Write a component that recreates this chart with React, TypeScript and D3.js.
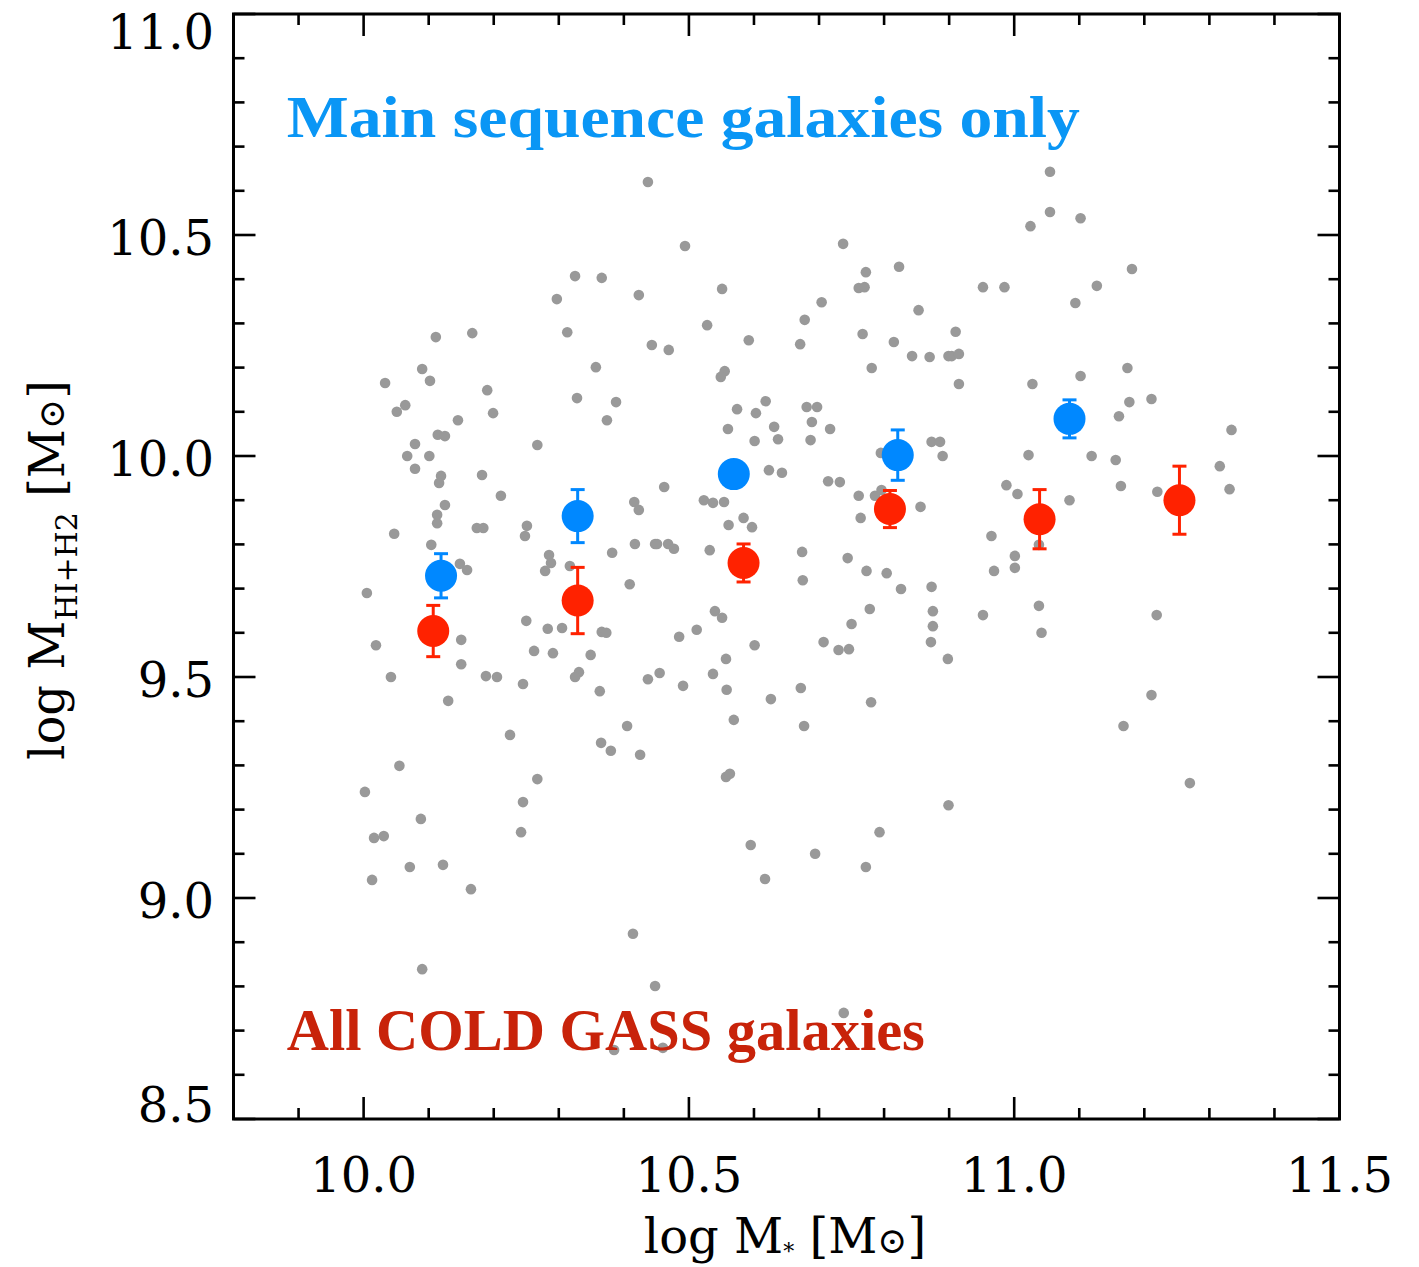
import React from 'react';
import * as d3 from 'd3';

// Canvas and plot frame
const W = 1419;
const H = 1267;
const frame = { left: 233.5, right: 1339.5, top: 14, bottom: 1119 };

// Axis domains and tick labels
const xDomain: [number, number] = [9.8, 11.5];
const yDomain: [number, number] = [8.5, 11.0];
const xTickLabels = ['10.0', '10.5', '11.0', '11.5'];
const yTickLabels = ['8.5', '9.0', '9.5', '10.0', '10.5', '11.0'];

// Individual galaxies: log stellar mass and log (HI+H2) gas mass
const galaxyLogMstar = [
  10.437, 10.325, 10.366, 10.297, 10.423, 10.313, 10.443, 10.111, 10.167, 10.357,
  10.090, 10.033, 10.102, 10.190, 10.328, 10.388, 10.064, 10.051, 10.199, 10.374,
  10.145, 10.114, 10.125, 10.079, 10.267, 10.067, 10.101,
  10.494, 10.737, 10.772, 10.823, 10.761, 10.770, 10.551, 10.704, 10.528, 10.678,
  10.853, 10.469, 10.592, 10.671, 10.767, 10.815, 10.843, 10.870, 10.899, 10.781,
  10.555, 10.549, 10.618, 10.574, 10.603, 10.681, 10.697, 10.689, 10.560, 10.631,
  10.717, 10.601, 10.637, 10.687, 10.873, 10.886, 10.795, 10.890,
  11.055, 11.055, 11.025, 11.102, 11.181, 10.952, 10.985, 11.127, 11.094, 10.910,
  10.904, 10.915, 10.915, 11.028, 11.102, 11.174, 11.177, 11.211, 11.161, 11.334,
  11.022, 11.119, 11.156,
  10.079, 10.119, 10.116, 10.182, 10.211, 10.125, 10.113, 10.113, 10.047, 10.174,
  10.184, 10.251, 10.248, 10.104, 10.148, 10.159, 10.285, 10.288, 10.279, 10.317,
  10.416, 10.423, 10.417, 10.448, 10.382, 10.409, 10.005, 10.250, 10.283, 10.305,
  10.366, 10.373, 10.150, 10.019, 10.262, 10.291, 10.349, 10.150, 10.188, 10.205,
  10.042, 10.331, 10.325, 10.245, 10.437, 10.363, 10.130, 10.405, 10.225, 10.365,
  10.380, 10.425,
  10.462, 10.623, 10.643, 10.714, 10.732, 10.523, 10.537, 10.554, 10.761, 10.786,
  10.796, 10.856, 10.764, 10.584, 10.597, 10.561, 10.451, 10.468, 10.477, 10.532,
  10.674, 10.675, 10.744, 10.773, 10.804, 10.826, 10.873, 10.778, 10.875, 10.875,
  10.750, 10.540, 10.551, 10.512, 10.485, 10.601, 10.707, 10.730, 10.746, 10.872,
  10.898, 10.557, 10.455, 10.537, 10.491, 10.558, 10.672, 10.626, 10.780, 10.569,
  10.677,
  11.316, 10.988, 11.005, 11.164, 11.085, 11.220, 11.331, 10.965, 11.001, 11.001,
  10.969, 11.038, 11.038, 10.952, 11.042, 11.219, 11.211, 11.168,
  10.055, 10.002, 10.267, 10.245, 10.088, 10.242, 10.016, 10.031, 10.071, 10.122,
  10.013, 10.165, 10.414, 10.090, 10.448, 10.385,
  10.557, 10.563, 10.899, 10.793, 10.595, 10.694, 10.772, 10.617, 10.738, 10.460,
  11.270,
];

const galaxyLogMgas = [
  10.620, 10.407, 10.403, 10.355, 10.364, 10.280, 10.251, 10.269, 10.278, 10.201,
  10.197, 10.165, 10.170, 10.149, 10.131, 10.122, 10.115, 10.100, 10.097, 10.081,
  10.081, 10.048, 10.045, 10.027, 10.025, 10.000, 10.000,
  10.475, 10.480, 10.416, 10.428, 10.380, 10.382, 10.378, 10.348, 10.296, 10.308,
  10.330, 10.240, 10.262, 10.253, 10.276, 10.258, 10.226, 10.224, 10.226, 10.199,
  10.192, 10.179, 10.124, 10.106, 10.097, 10.111, 10.111, 10.077, 10.061, 10.066,
  10.061, 10.034, 10.038, 10.036, 10.032, 10.032, 10.007, 10.000,
  10.643, 10.552, 10.520, 10.538, 10.423, 10.382, 10.382, 10.385, 10.346, 10.281,
  10.226, 10.231, 10.163, 10.163, 10.181, 10.199, 10.122, 10.129, 10.090, 10.059,
  10.002, 10.000, 9.991,
  9.971, 9.955, 9.939, 9.957, 9.910, 9.889, 9.867, 9.848, 9.824, 9.837,
  9.837, 9.842, 9.819, 9.799, 9.756, 9.742, 9.776, 9.758, 9.740, 9.751,
  9.896, 9.878, 9.801, 9.801, 9.781, 9.710, 9.690, 9.627, 9.609, 9.611,
  9.602, 9.600, 9.584, 9.572, 9.559, 9.554, 9.550, 9.529, 9.502, 9.500,
  9.500, 9.511, 9.500, 9.484, 9.495, 9.468, 9.446, 9.389, 9.369, 9.351,
  9.333, 9.324,
  9.930, 9.968, 9.962, 9.943, 9.941, 9.900, 9.894, 9.896, 9.910, 9.910,
  9.923, 9.885, 9.860, 9.860, 9.839, 9.844, 9.801, 9.801, 9.790, 9.787,
  9.783, 9.719, 9.769, 9.740, 9.735, 9.699, 9.704, 9.654, 9.649, 9.615,
  9.620, 9.649, 9.634, 9.607, 9.591, 9.572, 9.579, 9.561, 9.563, 9.579,
  9.541, 9.541, 9.509, 9.507, 9.480, 9.471, 9.475, 9.450, 9.443, 9.403,
  9.389,
  9.977, 9.934, 9.914, 9.932, 9.900, 9.919, 9.925, 9.819, 9.774, 9.747,
  9.740, 9.799, 9.661, 9.640, 9.600, 9.640, 9.459, 9.389,
  9.299, 9.240, 9.269, 9.217, 9.179, 9.149, 9.136, 9.140, 9.070, 9.075,
  9.041, 9.020, 8.919, 8.839, 8.801, 8.656,
  9.274, 9.281, 9.210, 9.149, 9.120, 9.100, 9.070, 9.043, 8.740, 8.661,
  9.260,
];

// Binned averages: all COLD GASS galaxies
const allBinMstar = [10.107, 10.329, 10.584, 10.809, 11.039, 11.254];
const allBinMgas = [9.604, 9.673, 9.758, 9.880, 9.857, 9.900];
const allBinErr = [0.058, 0.075, 0.043, 0.042, 0.067, 0.077];

// Binned averages: main sequence galaxies only
const msBinMstar = [10.119, 10.329, 10.569, 10.821, 11.085];
const msBinMgas = [9.729, 9.864, 9.959, 10.002, 10.084];
const msBinErr = [0.05, 0.06, 0.02, 0.057, 0.043];

const GRAY = '#999999';
const BLUE = '#0088ff';
const RED = '#ff2200';
const BLUE_TEXT = '#0a96f5';
const RED_TEXT = '#c8230a';
const AXIS_FONT = '"DejaVu Serif", serif';
const LABEL_FONT = '"Liberation Serif", "Times New Roman", serif';

const x = d3.scaleLinear().domain(xDomain).range([frame.left, frame.right]);
const y = d3.scaleLinear().domain(yDomain).range([frame.bottom, frame.top]);

const round1 = (v: number) => Math.round(v * 10) / 10;
const xMinor = d3.range(Math.round(xDomain[0] * 10), Math.round(xDomain[1] * 10) + 1).map((k) => k / 10);
const yMinor = d3.range(Math.round(yDomain[0] * 10), Math.round(yDomain[1] * 10) + 1).map((k) => k / 10);
const isMajor = (v: number) => Math.abs(v * 2 - Math.round(v * 2)) < 1e-6;

const MAJOR = 22;
const MINOR = 11;
const TICK_FS = 48;
const DIGIT_H = 35;

function ErrorPoints({ xs, ys, es, color }: { xs: number[]; ys: number[]; es: number[]; color: string }) {
  return (
    <g>
      {xs.map((xv, i) => {
        const cx = x(xv);
        const lo = y(ys[i] - es[i]);
        const hi = y(ys[i] + es[i]);
        return (
          <g key={i} stroke={color} strokeWidth={3}>
            <line x1={cx} x2={cx} y1={lo} y2={hi} />
            <line x1={cx - 7} x2={cx + 7} y1={lo} y2={lo} />
            <line x1={cx - 7} x2={cx + 7} y1={hi} y2={hi} />
          </g>
        );
      })}
      {xs.map((xv, i) => (
        <circle key={'c' + i} cx={x(xv)} cy={y(ys[i])} r={16} fill={color} />
      ))}
    </g>
  );
}

export default function App() {
  const yLabelBaseline = (v: number) => {
    const base = y(v) + DIGIT_H / 2 + 2;
    return Math.min(Math.max(base, frame.top + DIGIT_H), frame.bottom + 3);
  };

  return (
    <svg
      width={W}
      height={H}
      viewBox={`0 0 ${W} ${H}`}
      style={{ position: 'absolute', left: 0, top: 0, display: 'block', background: '#fff' }}
    >
      <rect x={0} y={0} width={W} height={H} fill="#fff" />

      {/* individual galaxies */}
      <g fill={GRAY}>
        {galaxyLogMstar.map((m, i) => (
          <circle key={i} cx={x(m)} cy={y(galaxyLogMgas[i])} r={5.3} />
        ))}
      </g>

      <ErrorPoints xs={msBinMstar} ys={msBinMgas} es={msBinErr} color={BLUE} />
      <ErrorPoints xs={allBinMstar} ys={allBinMgas} es={allBinErr} color={RED} />

      {/* frame */}
      <rect
        x={frame.left}
        y={frame.top}
        width={frame.right - frame.left}
        height={frame.bottom - frame.top}
        fill="none"
        stroke="#000"
        strokeWidth={3}
      />

      {/* ticks on all four sides */}
      <g stroke="#000" strokeWidth={2.6}>
        {xMinor.map((v) => {
          const len = isMajor(round1(v)) ? MAJOR : MINOR;
          const px = x(v);
          return (
            <g key={v}>
              <line x1={px} x2={px} y1={frame.bottom} y2={frame.bottom - len} />
              <line x1={px} x2={px} y1={frame.top} y2={frame.top + len} />
            </g>
          );
        })}
        {yMinor.map((v) => {
          const len = isMajor(round1(v)) ? MAJOR : MINOR;
          const py = y(v);
          return (
            <g key={v}>
              <line x1={frame.left} x2={frame.left + len} y1={py} y2={py} />
              <line x1={frame.right} x2={frame.right - len} y1={py} y2={py} />
            </g>
          );
        })}
      </g>

      {/* tick labels */}
      <g fontFamily={AXIS_FONT} fontSize={TICK_FS} fill="#000">
        {xTickLabels.map((t) => (
          <text key={t} x={x(+t)} y={1192} textAnchor="middle">
            {t}
          </text>
        ))}
        {yTickLabels.map((t) => (
          <text key={t} x={214} y={yLabelBaseline(+t)} textAnchor="end">
            {t}
          </text>
        ))}
      </g>

      {/* axis titles */}
      <text x={785} y={1253} textAnchor="middle" fontFamily={AXIS_FONT} fontSize={48} fill="#000">
        log M
        <tspan fontSize={22} dy={6}>*</tspan>
        <tspan dy={-6}> [M</tspan>
        <tspan fontSize={36}>⊙</tspan>]
      </text>
      <text
        transform="translate(64,570) rotate(-90)"
        textAnchor="middle"
        fontFamily={AXIS_FONT}
        fontSize={48}
        fill="#000"
      >
        log M
        <tspan fontSize={30} dy={13}>HI+H2</tspan>
        <tspan dy={-13}> [M</tspan>
        <tspan fontSize={36}>⊙</tspan>]
      </text>

      {/* annotations */}
      <text
        x={x(9.882)}
        y={y(10.722)}
        fontFamily={LABEL_FONT}
        fontWeight="bold"
        fontSize={60}
        fill={BLUE_TEXT}
        textLength={793}
        lengthAdjust="spacingAndGlyphs"
      >
        Main sequence galaxies only
      </text>
      <text
        x={x(9.882)}
        y={y(8.656)}
        fontFamily={LABEL_FONT}
        fontWeight="bold"
        fontSize={60}
        fill={RED_TEXT}
        textLength={638}
        lengthAdjust="spacingAndGlyphs"
      >
        All COLD GASS galaxies
      </text>
    </svg>
  );
}
